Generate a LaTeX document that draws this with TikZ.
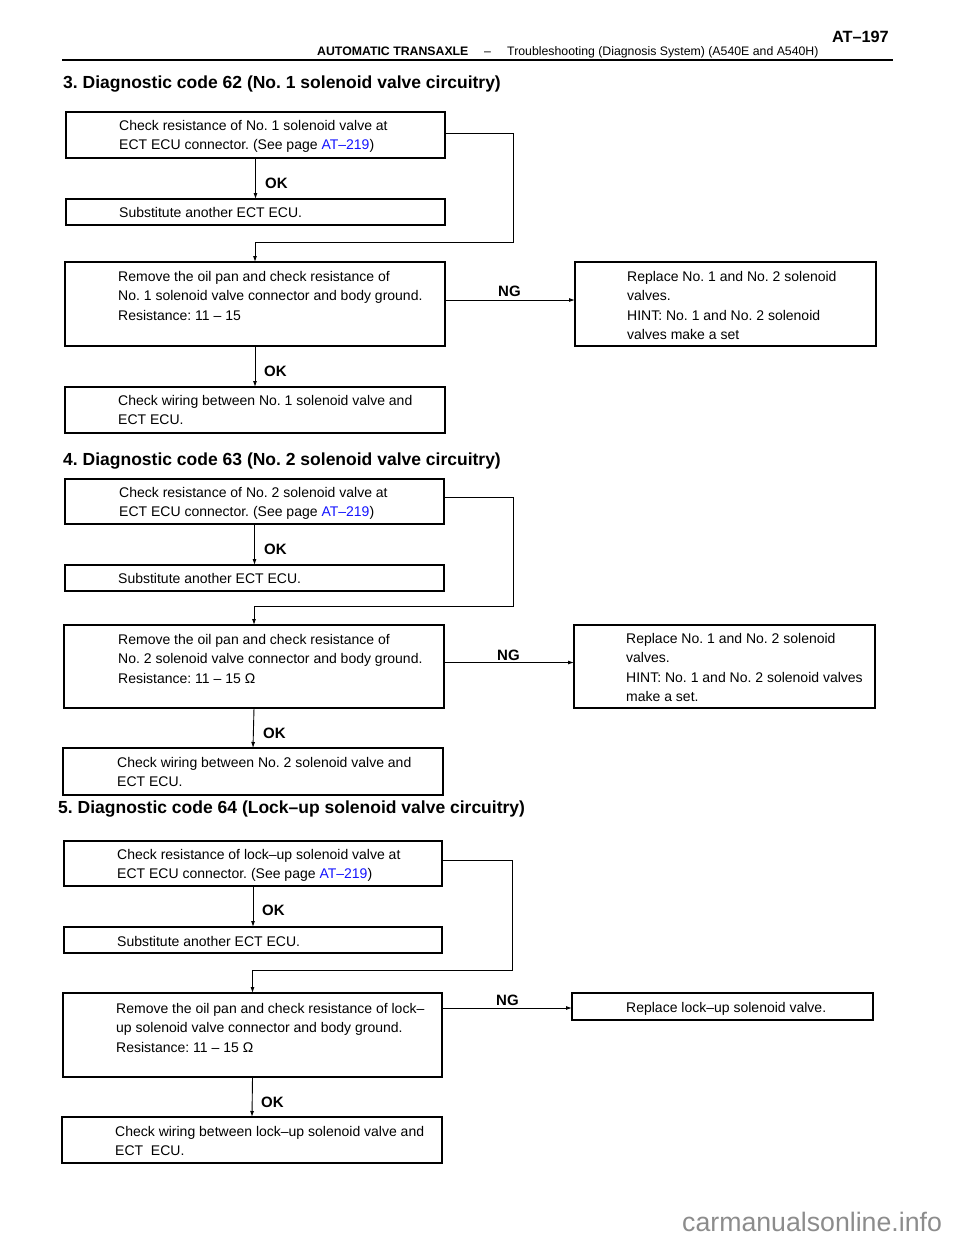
\documentclass[tikz,border=0pt]{standalone}
\usepackage{fontspec}
\setmainfont{Liberation Sans}
\usetikzlibrary{arrows.meta}
\frenchspacing
\definecolor{linkblue}{RGB}{20,20,255}
\definecolor{wm}{RGB}{140,140,140}
\tikzset{
 box/.style={draw, line width=1.3pt, anchor=north west, inner sep=0pt, outer sep=0pt},
 conn/.style={line width=0.9pt, -{Latex[length=6pt,width=4pt]}},
 txt/.style={anchor=base west, inner sep=0pt, font=\fontsize{14}{19.5}\selectfont},
 lbl/.style={anchor=base west, inner sep=0pt, font=\bfseries\fontsize{15}{15}\selectfont},
 head/.style={anchor=base west, inner sep=0pt, font=\bfseries\fontsize{17.5}{20}\selectfont},
}
\newcommand\flowbox[5]{\node[box, minimum width=#4pt, minimum height=#5pt] (#1) at (#2,#3) {};}
\newcommand\pg{\textcolor{linkblue}{AT–219}}
\begin{document}
\frenchspacing
\begin{tikzpicture}[x=1pt,y=-1pt]
\useasboundingbox (0,0) rectangle (960,1242);
% page header
\node[anchor=base east, inner sep=0pt, font=\bfseries\fontsize{16.3}{18}\selectfont] (pnum) at (889,42) {AT–197};
\node[anchor=base west, inner sep=0pt, font=\bfseries\fontsize{12.3}{14}\selectfont] (hdr1) at (317,55.5) {AUTOMATIC TRANSAXLE};
\node[anchor=base west, inner sep=0pt, font=\fontsize{12.3}{14}\selectfont] (hdr2) at (484,55.5) {–};
\node[anchor=base west, inner sep=0pt, font=\fontsize{12.3}{14}\selectfont] (hdr3) at (507,55.5) {Troubleshooting (Diagnosis System) (A540E and A540H)};
\draw[line width=1.2pt] (62,60) coordinate (rl) -- (893,60) coordinate (rr);

% ---------- Section 3 ----------
\node[head] (h3) at (63,88) {3. Diagnostic code 62 (No. 1 solenoid valve circuitry)};
\flowbox{a1}{66}{112}{379}{46}
\flowbox{b1}{66}{199}{379}{26}
\flowbox{c1}{65}{262}{380}{84}
\flowbox{d1}{575}{262}{301}{84}
\flowbox{e1}{65}{387}{380}{46}
\coordinate (j1) at (513,242);
\node[txt] (ta1) at (119,130) {\parbox[t]{320pt}{Check resistance of No. 1 solenoid valve at\\ECT ECU connector. (See page \pg)}};
\node[txt] (tb1) at (119,217) {Substitute another ECT ECU.};
\node[txt] (tc1) at (118,281) {\parbox[t]{325pt}{Remove the oil pan and check resistance of\\No. 1 solenoid valve connector and body ground.\\Resistance: 11 – 15}};
\node[txt] (td1) at (627,281) {\parbox[t]{245pt}{Replace No. 1 and No. 2 solenoid\\valves.\\HINT: No. 1 and No. 2 solenoid\\valves make a set}};
\node[txt] (te1) at (118,405) {\parbox[t]{325pt}{Check wiring between No. 1 solenoid valve and\\ECT ECU.}};
\draw[conn] (a1.south) -- (b1.north);
\draw[conn] ([yshift=2pt]a1.east) -| (j1) -| (c1.north);
\draw[conn] ([yshift=4pt]c1.east) -- ([yshift=4pt]d1.west);
\draw[conn] (c1.south) -- (e1.north);
\node[lbl] (ok1) at (265,188) {OK};
\node[lbl] (ng1) at (498,296) {NG};
\node[lbl] (ok2) at (264,376) {OK};

% ---------- Section 4 ----------
\node[head] (h4) at (63,465) {4. Diagnostic code 63 (No. 2 solenoid valve circuitry)};
\flowbox{a2}{65}{479}{379}{45}
\flowbox{b2}{65}{565}{379}{26}
\flowbox{c2}{64}{625}{380}{83}
\flowbox{d2}{574}{625}{301}{83}
\flowbox{e2}{63}{748}{380}{47}
\coordinate (j2) at (513,606);
\node[txt] (ta2) at (119,497) {\parbox[t]{320pt}{Check resistance of No. 2 solenoid valve at\\ECT ECU connector. (See page \pg)}};
\node[txt] (tb2) at (118,583) {Substitute another ECT ECU.};
\node[txt] (tc2) at (118,644) {\parbox[t]{325pt}{Remove the oil pan and check resistance of\\No. 2 solenoid valve connector and body ground.\\Resistance: 11 – 15 Ω}};
\node[txt] (td2) at (626,643) {\parbox[t]{248pt}{Replace No. 1 and No. 2 solenoid\\valves.\\HINT: No. 1 and No. 2 solenoid valves\\make a set.}};
\node[txt] (te2) at (117,767) {\parbox[t]{325pt}{Check wiring between No. 2 solenoid valve and\\ECT ECU.}};
\draw[conn] (a2.south) -- (b2.north);
\draw[conn] ([yshift=4pt]a2.east) -| (j2) -| (c2.north);
\draw[conn] ([yshift=4pt]c2.east) -- ([yshift=4pt]d2.west);
\draw[conn] (c2.south) -- (e2.north);
\node[lbl] (ok3) at (264,554) {OK};
\node[lbl] (ng2) at (497,660) {NG};
\node[lbl] (ok4) at (263,738) {OK};

% ---------- Section 5 ----------
\node[head] (h5) at (58,813) {5. Diagnostic code 64 (Lock–up solenoid valve circuitry)};
\flowbox{a3}{64}{841}{378}{45}
\flowbox{b3}{64}{927}{378}{26}
\flowbox{c3}{63}{993}{379}{84}
\flowbox{d3}{572}{993}{301}{27}
\flowbox{e3}{62}{1117}{380}{46}
\coordinate (j3) at (512,970);
\node[txt] (ta3) at (117,859) {\parbox[t]{320pt}{Check resistance of lock–up solenoid valve at\\ECT ECU connector. (See page \pg)}};
\node[txt] (tb3) at (117,946) {Substitute another ECT ECU.};
\node[txt] (tc3) at (116,1013) {\parbox[t]{325pt}{Remove the oil pan and check resistance of lock–\\up solenoid valve connector and body ground.\\Resistance: 11 – 15 Ω}};
\node[txt] (td3) at (626,1012) {Replace lock–up solenoid valve.};
\node[txt] (te3) at (115,1136) {\parbox[t]{325pt}{Check wiring between lock–up solenoid valve and\\ECT\ \ ECU.}};
\draw[conn] (a3.south) -- (b3.north);
\draw[conn] ([yshift=3pt]a3.east) -| (j3) -| (c3.north);
\draw[conn] ([yshift=-1.5pt]d3.west -| c3.east) -- ([yshift=-1.5pt]d3.west);
\draw[conn] (c3.south) -- (e3.north);
\node[lbl] (ok5) at (262,915) {OK};
\node[lbl] (ng3) at (496,1005) {NG};
\node[lbl] (ok6) at (261,1107) {OK};

% watermark
\node[anchor=base west, inner sep=0pt, text=wm, font=\fontsize{26.7}{28}\selectfont] (wmk) at (682,1231) {carmanualsonline.info};
\end{tikzpicture}
\end{document}
